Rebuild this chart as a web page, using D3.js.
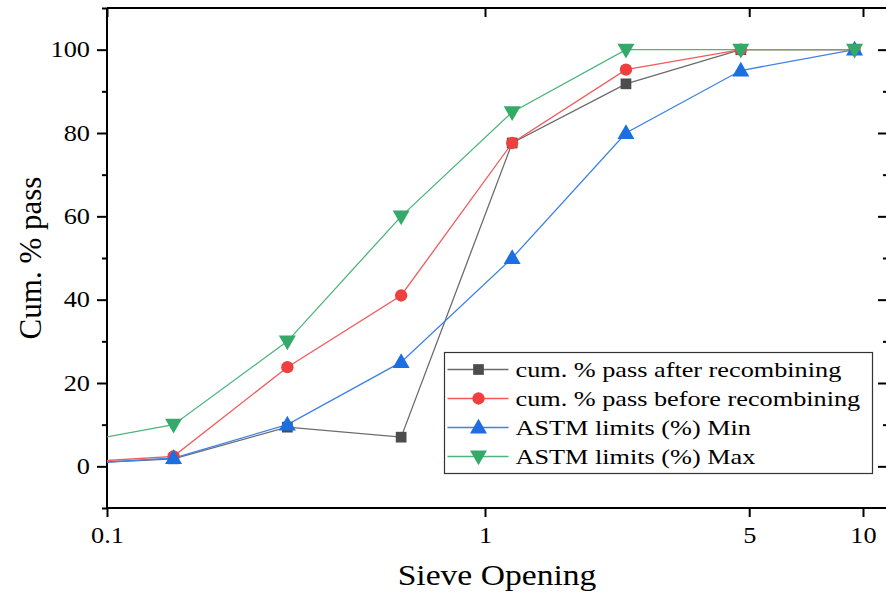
<!DOCTYPE html>
<html>
<head>
<meta charset="utf-8">
<script src="https://cdn.jsdelivr.net/npm/d3@7"></script>
<style>
  body { margin: 0; background: #fff; }
  svg text { font-family: "Liberation Serif", "Times New Roman", serif; fill: #000; }
  .axis path, .axis line { stroke: #000; stroke-width: 2; }
</style>
</head>
<body>
<div id="vis1"></div>
<script>
// sieve openings (mm)
var sieves = [0.075, 0.15, 0.3, 0.6, 1.18, 2.36, 4.75, 9.5];
// cumulative % passing
var afterRecomb  = [0.5, 1.8, 9.4, 7.0, 77.6, 91.8, 100, 100];
var beforeRecomb = [0.7, 2.4, 23.8, 41.0, 77.6, 95.2, 100, 100];
var astmMin      = [0.3, 2.0, 10, 25, 50, 80, 95, 100];
var astmMax      = [5, 10, 30, 60, 85, 100, 100, 100];

var seriesNames = ["cum. % pass after recombining", "cum. % pass before recombining",
                   "ASTM limits (%) Min", "ASTM limits (%) Max"];
var xTicks = [0.1, 1, 5, 10];
var yTicks = [0, 20, 40, 60, 80, 100];
var yMinor = [-10, 10, 30, 50, 70, 90, 110];

var width = 886, height = 596;
var mLeft = 107, mRight = 888, mTop = 8, mBottom = 508;
var stretch = 1.17; // the reference lettering is wide

var series = [
  {name: seriesNames[0], values: afterRecomb,  line: "#6b6b6b", fill: "#4d4d4d", shape: "square"},
  {name: seriesNames[1], values: beforeRecomb, line: "#f25a5a", fill: "#ef4040", shape: "circle"},
  {name: seriesNames[2], values: astmMin,      line: "#3d82e6", fill: "#1c6fe0", shape: "up"},
  {name: seriesNames[3], values: astmMax,      line: "#4cb57a", fill: "#35a96a", shape: "down"}
];

var svg = d3.select("#vis1").append("svg")
    .attr("width", width)
    .attr("height", height);

var xScale = d3.scaleLog()
    .domain([0.1, 10])
    .range([mLeft, 863]);

var yScale = d3.scaleLinear()
    .domain([-10, 110])
    .range([mBottom, mTop]);

svg.append("clipPath").attr("id", "plotclip")
  .append("rect")
    .attr("x", mLeft).attr("y", mTop)
    .attr("width", mRight - mLeft).attr("height", mBottom - mTop);

// bottom axis
svg.append("g")
    .attr("class", "axis")
    .attr("transform", "translate(0," + mBottom + ")")
    .call(d3.axisBottom(xScale).tickValues(xTicks).tickSize(9).tickPadding(10)
          .tickFormat(d3.format("")))
    .call(function(g){
        g.select(".domain").attr("d", "M" + mLeft + ",0H" + mRight);
        g.selectAll("text").attr("font-size", "22.5px")
            .attr("transform", "scale(" + stretch + ",1)");
    });

// top axis, ticks inward
svg.append("g")
    .attr("class", "axis")
    .attr("transform", "translate(0," + mTop + ")")
    .call(d3.axisTop(xScale).tickValues(xTicks).tickSize(-9).tickFormat(""))
    .call(function(g){ g.select(".domain").attr("d", "M" + mLeft + ",0H" + mRight); });

// left axis
svg.append("g")
    .attr("class", "axis")
    .attr("transform", "translate(" + mLeft + ",0)")
    .call(d3.axisLeft(yScale).tickValues(yTicks).tickSize(10).tickPadding(7))
    .call(function(g){
        g.select(".domain").attr("d", "M0," + mTop + "V" + mBottom);
        g.selectAll("text").attr("font-size", "22.5px")
            .attr("x", -17 / stretch)
            .attr("transform", "scale(" + stretch + ",1)");
    });

svg.append("g")
    .attr("class", "axis")
    .attr("transform", "translate(" + mLeft + ",0)")
    .call(d3.axisLeft(yScale).tickValues(yMinor).tickSize(5).tickFormat(""))
    .call(function(g){ g.select(".domain").remove(); });

// right axis, ticks inward
svg.append("g")
    .attr("class", "axis")
    .attr("transform", "translate(" + mRight + ",0)")
    .call(d3.axisRight(yScale).tickValues(yTicks).tickSize(-10).tickFormat(""))
    .call(function(g){ g.select(".domain").attr("d", "M0," + mTop + "V" + mBottom); });

svg.append("g")
    .attr("class", "axis")
    .attr("transform", "translate(" + mRight + ",0)")
    .call(d3.axisRight(yScale).tickValues(yMinor.slice(1, -1)).tickSize(-5).tickFormat(""))
    .call(function(g){ g.select(".domain").remove(); });

// lines + markers
var line = d3.line()
    .x(function(d, i){ return xScale(sieves[i]); })
    .y(function(d){ return yScale(d); });

var symbolFor = {
  square: d3.symbol().type(d3.symbolSquare).size(115),
  circle: d3.symbol().type(d3.symbolCircle).size(120),
  up: d3.symbol().type(d3.symbolTriangle).size(125),
  down: d3.symbol().type(d3.symbolTriangle).size(125)
};

function markerTransform(shape, x, y){
    var t = "translate(" + x + "," + y + ")";
    if (shape == "up") t += " translate(0,1)";
    if (shape == "down") t += " rotate(180) translate(0,1)";
    return t;
}

var plot = svg.append("g").attr("clip-path", "url(#plotclip)");

series.forEach(function(s){
    plot.append("path")
        .datum(s.values)
        .attr("fill", "none")
        .attr("stroke", s.line)
        .attr("stroke-width", 1.3)
        .attr("d", line);
});

series.forEach(function(s){
    plot.selectAll(null)
        .data(s.values.slice(1))
        .enter().append("path")
        .attr("d", symbolFor[s.shape])
        .attr("fill", s.fill)
        .attr("transform", function(d, i){
            return markerTransform(s.shape, xScale(sieves[i + 1]), yScale(d));
        });
});

// legend
var legend = svg.append("g").attr("transform", "translate(444.5,352.5)");
legend.append("rect")
    .attr("width", 428).attr("height", 121)
    .attr("fill", "#fff")
    .attr("stroke", "#333").attr("stroke-width", 1.2);

series.forEach(function(s, i){
    var row = legend.append("g").attr("transform", "translate(0," + (17 + i * 29) + ")");
    row.append("line")
        .attr("x1", 3).attr("x2", 64)
        .attr("stroke", s.line).attr("stroke-width", 1.3);
    row.append("path")
        .attr("d", symbolFor[s.shape])
        .attr("fill", s.fill)
        .attr("transform", markerTransform(s.shape, 34, 0));
    row.append("text")
        .attr("transform", "translate(71,7) scale(1.25,1)")
        .attr("font-size", "21px")
        .text(s.name);
});

// axis titles
svg.append("text")
    .attr("transform", "translate(497,585) scale(1.12,1)")
    .attr("text-anchor", "middle")
    .attr("font-size", "30px")
    .text("Sieve Opening");

svg.append("text")
    .attr("transform", "translate(41,258) rotate(-90)")
    .attr("text-anchor", "middle")
    .attr("font-size", "31px")
    .text("Cum. % pass");
</script>
</body>
</html>
